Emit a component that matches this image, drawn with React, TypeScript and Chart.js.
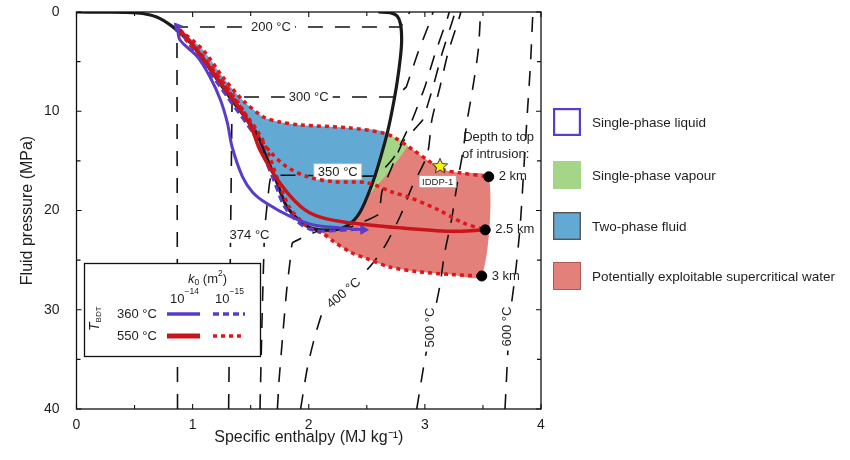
import React, { useEffect, useRef } from 'react';
import { Chart, registerables } from 'chart.js';

Chart.register(...registerables);

const FONT = '"Liberation Sans", Arial, Helvetica, sans-serif';
const INK = '#1e1e1e';

// ---- axis tick labels ----
const xTickLabels = ['0', '1', '2', '3', '4'];
const yTickLabels = ['0', '10', '20', '30', '40'];

// ---- saturation curve (bubble + dew), enthalpy MJ/kg vs pressure MPa ----
const satH = [0.0, 0.2, 0.52, 0.69, 0.83, 0.98, 1.09, 1.32, 1.55, 1.61, 1.72, 1.81, 1.93, 2.04, 2.21, 2.33, 2.44, 2.55, 2.62, 2.68, 2.72, 2.76, 2.79, 2.8, 2.79, 2.76, 2.7, 2.6];
const satP = [0.0, 0.02, 0.1, 0.5, 1.5, 3.1, 4.8, 8.6, 12.2, 13.9, 17.0, 19.6, 21.1, 21.85, 21.95, 21.55, 20.2, 17.2, 14.6, 12.0, 9.8, 7.15, 4.5, 2.8, 1.2, 0.4, 0.08, 0.0];

// ---- flow paths ----
// T_BDT 360 °C, k0 1e-14 (solid purple)
const p14H = [0.87, 0.89, 1.04, 1.15, 1.24, 1.3, 1.34, 1.43, 1.52, 1.64, 1.84, 2.04, 2.27, 2.47];
const p14P = [1.5, 2.8, 4.5, 6.55, 8.86, 11.2, 13.6, 16.6, 18.2, 19.3, 20.6, 21.45, 21.75, 21.95];
// T_BDT 360 °C, k0 1e-15 (dashed purple)
const p15H = [0.87, 0.96, 1.07, 1.3, 1.52, 1.59, 1.7, 1.79, 1.92, 2.04, 2.21, 2.47];
const p15P = [1.5, 3.1, 4.8, 8.6, 12.2, 13.9, 17.0, 19.6, 21.3, 22.0, 22.05, 21.85];
// T_BDT 550 °C, k0 1e-14 (solid red, 2.5 km)
const r14H = [0.89, 1.05, 1.2, 1.36, 1.5, 1.58, 1.75, 1.93, 2.08, 2.3, 2.79, 3.22, 3.52];
const r14P = [1.8, 4.0, 6.5, 9.0, 11.5, 13.9, 17.2, 19.6, 20.6, 21.15, 21.75, 22.1, 21.95];
// T_BDT 550 °C, k0 1e-15 (dotted red), intrusion top at 2 km, 2.5 km, 3 km
const r2kmH = [0.89, 1.09, 1.26, 1.43, 1.61, 1.75, 1.93, 2.36, 2.64, 2.73, 2.9, 3.02, 3.16, 3.3, 3.55];
const r2kmP = [1.8, 3.83, 6.55, 8.86, 10.57, 11.08, 11.38, 11.68, 12.19, 12.59, 13.9, 14.9, 15.9, 16.2, 16.6];
const r25kmH = [0.89, 1.15, 1.38, 1.55, 1.67, 1.81, 1.99, 2.21, 2.5, 2.73, 2.85, 3.11, 3.33, 3.52];
const r25kmP = [2.1, 5.5, 8.9, 12.2, 14.1, 15.6, 16.6, 17.1, 17.2, 18.2, 18.6, 19.9, 21.25, 21.95];
const r3kmH = [0.89, 1.12, 1.35, 1.57, 1.64, 1.83, 2.0, 2.12, 2.21, 2.36, 2.5, 2.7, 2.93, 3.22, 3.49];
const r3kmP = [1.8, 4.9, 8.6, 12.2, 13.9, 19.6, 21.7, 22.3, 23.1, 24.2, 24.85, 25.7, 26.15, 26.45, 26.6];

// ---- intrusion depth end points and IDDP-1 ----
const depthLabels = ['2 km', '2.5 km', '3 km'];
const depthH = [3.55, 3.52, 3.49];
const depthP = [16.6, 21.95, 26.6];
const iddpH = [3.13];
const iddpP = [15.5];

// ---- phase regions ----
const blueH = [0.89, 1.09, 1.26, 1.43, 1.61, 1.75, 1.93, 2.36, 2.67, 2.62, 2.55, 2.44, 2.33, 2.21, 2.04, 1.93, 1.81, 1.72, 1.61, 1.55, 1.32, 1.09, 0.98];
const blueP = [1.8, 3.83, 6.55, 8.86, 10.57, 11.08, 11.38, 11.68, 12.2, 14.6, 17.2, 20.2, 21.55, 21.95, 21.85, 21.1, 19.6, 17.0, 13.9, 12.2, 8.6, 4.8, 3.1];
const greenH = [2.67, 2.73, 2.85, 2.31, 2.33, 2.44, 2.55, 2.62];
const greenP = [12.2, 12.59, 13.5, 21.4, 21.55, 20.2, 17.2, 14.6];
const redH = [2.85, 2.9, 3.02, 3.16, 3.3, 3.55, 3.49, 3.22, 2.93, 2.7, 2.5, 2.36, 2.21, 2.12, 2.31];
const redP = [13.5, 13.9, 14.9, 15.9, 16.2, 16.6, 26.6, 26.45, 26.15, 25.7, 24.85, 24.2, 23.1, 22.15, 21.4];

// ---- isotherms ----
const iso200H = [0.87, 0.865, 2.79, 2.87];
const iso200P = [40, 1.51, 1.51, 0];
const iso300H = [1.31, 1.34, 2.75, 2.84, 2.94, 3.05, 3.07];
const iso300P = [40, 8.56, 8.56, 7.55, 4.1, 0.8, 0];
const iso350H = [1.58, 1.6, 1.62, 1.65, 1.68, 2.58, 2.73, 2.89, 3.0, 3.09, 3.19, 3.21];
const iso350P = [40, 30, 22, 18.5, 16.5, 16.5, 14.7, 10.9, 7.55, 4.1, 0.8, 0];
const iso374H = [1.73, 1.745, 1.78, 1.81, 1.84, 1.86, 2.08, 2.35, 2.6, 2.63, 2.73, 2.81, 2.98, 3.07, 3.15, 3.24, 3.26];
const iso374P = [40, 37, 32, 28, 25, 23.26, 22.06, 21.7, 20.4, 18.1, 15.2, 13.1, 10.9, 7.55, 4.1, 0.8, 0];
const iso400H = [1.93, 1.99, 2.07, 2.16, 2.5, 2.66, 2.79, 2.89, 3.02, 3.06, 3.13, 3.2, 3.29, 3.31];
const iso400P = [40, 35.75, 32.0, 29.3, 26.0, 23.5, 20.5, 17.6, 14.4, 10.9, 7.55, 4.1, 0.8, 0];
const iso500H = [2.93, 3.0, 3.07, 3.13, 3.17, 3.23, 3.28, 3.33, 3.36, 3.41, 3.46, 3.48];
const iso500P = [40, 35.0, 31.0, 27.5, 24.3, 20.9, 17.2, 13.9, 11.2, 7.85, 3.8, 0];
const iso600H = [3.69, 3.71, 3.73, 3.78, 3.82, 3.85, 3.88, 3.91, 3.93];
const iso600P = [40, 35.3, 31.0, 26.3, 21.65, 16.2, 10.6, 5.1, 0];

// isotherm labels (anchor in data units)
const isoLabelText = ['200 °C', '300 °C', '350 °C', '374 °C', '400 °C', '500 °C', '600 °C'];
const isoLabelH = [1.675, 2.0, 2.25, 1.49, 2.3, 3.04, 3.71];
const isoLabelP = [1.51, 8.56, 16.1, 22.45, 28.3, 31.8, 31.7];
const isoLabelRot = [0, 0, 0, 0, -40, -90, -90];

const legendLabels = ['Single-phase liquid', 'Single-phase vapour', 'Two-phase fluid', 'Potentially exploitable supercritical water'];

const C = {
  purple: '#5b3cc9',
  red: '#c8141b',
  redDot: '#e0161c',
  black: '#1a1a1a',
  blue: '#62aad4',
  green: '#a5d587',
  salmon: '#e3807a',
};

const pts = (h: number[], p: number[]) => h.map((x, i) => ({ x, y: p[i] }));

function makeStar(): HTMLCanvasElement {
  const c = document.createElement('canvas');
  c.width = 18;
  c.height = 18;
  const g = c.getContext('2d')!;
  g.beginPath();
  for (let i = 0; i < 10; i++) {
    const r = i % 2 === 0 ? 8 : 3.6;
    const a = -Math.PI / 2 + (i * Math.PI) / 5;
    g.lineTo(9 + r * Math.cos(a), 9.5 + r * Math.sin(a));
  }
  g.closePath();
  g.fillStyle = '#f4f40e';
  g.fill();
  g.strokeStyle = '#333';
  g.lineWidth = 1;
  g.stroke();
  return c;
}

const ISO_LAST = 9;

function drawText(ctx: CanvasRenderingContext2D, s: string, x: number, y: number, size = 13, align: CanvasTextAlign = 'left', style = '') {
  ctx.font = `${style} ${size}px ${FONT}`.trim();
  ctx.textAlign = align;
  ctx.textBaseline = 'middle';
  ctx.fillStyle = INK;
  ctx.fillText(s, x, y);
  return ctx.measureText(s).width;
}

const decorPlugin = {
  id: 'decor',
  afterDatasetDraw(chart: any, args: any) {
    if (args.index !== ISO_LAST) return;
    const { ctx, scales } = chart;
    ctx.save();
    isoLabelText.forEach((t, i) => {
      const x = scales.x.getPixelForValue(isoLabelH[i]);
      const y = scales.y.getPixelForValue(isoLabelP[i]);
      ctx.save();
      ctx.translate(x, y);
      ctx.rotate((isoLabelRot[i] * Math.PI) / 180);
      ctx.font = `13px ${FONT}`;
      const w = ctx.measureText(t).width;
      ctx.fillStyle = '#fff';
      ctx.fillRect(-w / 2 - 4, -8, w + 8, 16);
      if (i === 2) {
        ctx.strokeStyle = '#bbb';
        ctx.lineWidth = 0.8;
        ctx.strokeRect(-w / 2 - 4, -8, w + 8, 16);
      }
      drawText(ctx, t, 0, 0.5, 13, 'center');
      ctx.restore();
    });
    ctx.restore();
  },
  afterDraw(chart: any) {
    const { ctx, chartArea: a, scales } = chart;
    const sx = scales.x;
    const sy = scales.y;
    ctx.save();
    // frame
    ctx.strokeStyle = '#111';
    ctx.lineWidth = 1.3;
    ctx.strokeRect(a.left, a.top, a.right - a.left, a.bottom - a.top);
    // inward ticks
    ctx.lineWidth = 1.1;
    ctx.beginPath();
    sx.ticks.forEach((t: any) => {
      const x = sx.getPixelForValue(t.value);
      const len = Number.isInteger(t.value) ? 5 : 4;
      ctx.moveTo(x, a.bottom); ctx.lineTo(x, a.bottom - len);
      ctx.moveTo(x, a.top); ctx.lineTo(x, a.top + len);
    });
    sy.ticks.forEach((t: any) => {
      const y = sy.getPixelForValue(t.value);
      const len = t.value % 10 === 0 ? 5 : 4;
      ctx.moveTo(a.left, y); ctx.lineTo(a.left + len, y);
      ctx.moveTo(a.right, y); ctx.lineTo(a.right - len, y);
    });
    ctx.stroke();

    // depth labels
    const px = (h: number) => sx.getPixelForValue(h);
    const py = (p: number) => sy.getPixelForValue(p);
    drawText(ctx, 'Depth to top', px(3.33), py(12.6), 13);
    drawText(ctx, 'of intrusion:', px(3.32), py(14.4), 13);
    depthLabels.forEach((s, i) => drawText(ctx, s, px(depthH[i]) + 10, py(depthP[i]), 13));

    // IDDP-1 tag
    {
      const x = px(3.11);
      const y = py(17.1);
      ctx.font = `9.5px ${FONT}`;
      const w = ctx.measureText('IDDP-1').width;
      ctx.fillStyle = '#fff';
      ctx.fillRect(x - w / 2 - 3, y - 6, w + 6, 12);
      ctx.strokeStyle = '#999';
      ctx.lineWidth = 0.7;
      ctx.strokeRect(x - w / 2 - 3, y - 6, w + 6, 12);
      drawText(ctx, 'IDDP-1', x, y + 0.5, 9.5, 'center');
    }

    // inner legend (flow path styles)
    const L = 84, T = 263, W = 176, H = 93;
    ctx.fillStyle = '#fff';
    ctx.fillRect(L, T, W, H);
    ctx.strokeStyle = '#111';
    ctx.lineWidth = 1.3;
    ctx.strokeRect(L + 0.5, T + 0.5, W, H);
    // header k0 (m2)
    let x = 188;
    const hy = 279;
    x += drawText(ctx, 'k', x, hy, 13, 'left', 'italic');
    x += drawText(ctx, '0', x, hy + 4, 8.5);
    x += drawText(ctx, ' (m', x, hy, 13);
    x += drawText(ctx, '2', x, hy - 5, 8.5);
    drawText(ctx, ')', x, hy, 13);
    // exponents
    const pow = (x0: number, e: string) => {
      const w = drawText(ctx, '10', x0, 299, 13);
      drawText(ctx, e, x0 + w, 292, 8.5);
    };
    pow(170, '−14');
    pow(215, '−15');
    // T_BDT
    ctx.save();
    ctx.translate(95, 331);
    ctx.rotate(-Math.PI / 2);
    const tw = drawText(ctx, 'T', 0, 0, 14, 'left', 'italic');
    drawText(ctx, 'BDT', tw, 4, 8);
    ctx.restore();
    drawText(ctx, '360 °C', 117, 314, 13);
    drawText(ctx, '550 °C', 117, 336, 13);
    const seg = (x1: number, x2: number, y: number, color: string, w: number, dash: number[]) => {
      ctx.beginPath();
      ctx.setLineDash(dash);
      ctx.strokeStyle = color;
      ctx.lineWidth = w;
      ctx.lineCap = 'butt';
      ctx.moveTo(x1, y);
      ctx.lineTo(x2, y);
      ctx.stroke();
      ctx.setLineDash([]);
    };
    seg(167, 200, 314, C.purple, 3.5, []);
    seg(213, 245, 314, C.purple, 3.5, [6, 4]);
    seg(167, 200, 336, C.red, 5, []);
    seg(213, 245, 336, C.redDot, 3.5, [4, 4]);

    // right legend (phase regions)
    const boxX = 553;
    const rowsY = [108, 161, 212, 262];
    const fills = ['#ffffff', C.green, C.blue, C.salmon];
    const borders = [C.purple, C.green, '#555', '#b05a55'];
    const bw = [2.2, 0, 1.4, 1];
    rowsY.forEach((y, i) => {
      ctx.fillStyle = fills[i];
      ctx.fillRect(boxX, y, 28, 28);
      if (bw[i] > 0) {
        ctx.strokeStyle = borders[i];
        ctx.lineWidth = bw[i];
        ctx.strokeRect(boxX + bw[i] / 2, y + bw[i] / 2, 28 - bw[i], 28 - bw[i]);
      }
      drawText(ctx, legendLabels[i], 592, y + 15, 13.5);
    });
    ctx.restore();
  },
};

function isoDs(h: number[], p: number[], tension = 0) {
  return {
    data: pts(h, p),
    borderColor: '#111',
    borderWidth: 1.6,
    borderDash: [15, 12],
    tension,
    fill: false,
    pointRadius: 0,
  };
}

function regionDs(h: number[], p: number[], color: string) {
  return {
    data: pts(h, p),
    borderColor: 'rgba(0,0,0,0)',
    borderWidth: 0,
    backgroundColor: color,
    fill: 'shape',
    tension: 0.25,
    pointRadius: 0,
  };
}

export default function App() {
  const ref = useRef<HTMLCanvasElement>(null);
  useEffect(() => {
    const star = makeStar();
    const last14 = p14H.length - 1;
    const datasets: any[] = [
      regionDs(redH, redP, C.salmon),
      regionDs(greenH, greenP, C.green),
      regionDs(blueH, blueP, C.blue),
      isoDs(iso200H, iso200P),
      isoDs(iso300H, iso300P),
      isoDs(iso350H, iso350P, 0.1),
      isoDs(iso374H, iso374P, 0.1),
      isoDs(iso400H, iso400P, 0.25),
      isoDs(iso500H, iso500P, 0.25),
      isoDs(iso600H, iso600P, 0.25),
      { data: pts(satH, satP), borderColor: C.black, borderWidth: 3.2, tension: 0.3, fill: false, pointRadius: 0 },
      { data: pts(r3kmH, r3kmP), borderColor: C.redDot, borderWidth: 3.5, borderDash: [4, 4], tension: 0.3, fill: false, pointRadius: 0 },
      { data: pts(p15H, p15P), borderColor: C.purple, borderWidth: 3, borderDash: [7, 4], tension: 0.3, fill: false, pointRadius: 0 },
      {
        data: pts(p14H, p14P), borderColor: C.purple, borderWidth: 3, tension: 0.3, fill: false,
        pointStyle: 'triangle',
        pointRadius: (c: any) => (c.dataIndex === 0 || c.dataIndex === last14 ? 5 : 0),
        rotation: (c: any) => (c.dataIndex === 0 ? -40 : 90),
        pointBackgroundColor: C.purple, pointBorderColor: C.purple, pointBorderWidth: 1,
      },
      { data: pts(r25kmH, r25kmP), borderColor: C.redDot, borderWidth: 3.5, borderDash: [4, 4], tension: 0.3, fill: false, pointRadius: 0 },
      { data: pts(r2kmH, r2kmP), borderColor: C.redDot, borderWidth: 3.5, borderDash: [4, 4], tension: 0.3, fill: false, pointRadius: 0 },
      { data: pts(r14H, r14P), borderColor: C.red, borderWidth: 3.5, tension: 0.3, fill: false, pointRadius: 0 },
      { data: pts(depthH, depthP), showLine: false, pointRadius: 5, pointBackgroundColor: '#000', pointBorderColor: '#000', fill: false },
      { data: pts(iddpH, iddpP), showLine: false, pointStyle: star, pointRadius: 9, fill: false },
    ];
    datasets.forEach((d, i) => { d.order = -i; });

    const chart = new Chart(ref.current!, {
      type: 'line',
      data: { datasets },
      options: {
        animation: false,
        responsive: true,
        maintainAspectRatio: false,
        devicePixelRatio: 1,
        layout: { padding: { left: 0, top: 12, right: 309, bottom: 0 } },
        plugins: { legend: { display: false }, tooltip: { enabled: false } },
        elements: { point: { radius: 0 }, line: { capBezierPoints: true } },
        scales: {
          x: {
            type: 'linear', min: 0, max: 4, position: 'bottom',
            grid: { display: false }, border: { display: false },
            ticks: {
              stepSize: 0.5, autoSkip: false, maxRotation: 0, padding: 0,
              font: { family: FONT, size: 14 }, color: INK,
              callback: (v: any) => (Number.isInteger(v) ? xTickLabels[v] : ''),
            },
            title: { display: true, text: 'Specific enthalpy (MJ kg⁻¹)', font: { family: FONT, size: 16 }, color: INK, padding: { top: 0, bottom: 13 } },
            afterFit: (s: any) => { s.height = 51; },
          },
          y: {
            type: 'linear', min: 0, max: 40, reverse: true,
            grid: { display: false }, border: { display: false },
            ticks: {
              stepSize: 5, autoSkip: false, padding: 9,
              font: { family: FONT, size: 14 }, color: INK,
              callback: (v: any) => (v % 10 === 0 ? yTickLabels[v / 10] : ''),
            },
            title: { display: true, text: 'Fluid pressure (MPa)', font: { family: FONT, size: 16 }, color: INK, padding: { top: 18, bottom: 0 } },
            afterFit: (s: any) => { s.width = 76.5; s.paddingTop = 0; s.paddingBottom = 0; },
          },
        },
      } as any,
      plugins: [decorPlugin as any],
    });
    return () => chart.destroy();
  }, []);
  return (
    <div style={{ position: 'fixed', left: 0, top: 0, width: 850, height: 460, background: '#fff' }}>
      <canvas ref={ref} />
    </div>
  );
}
